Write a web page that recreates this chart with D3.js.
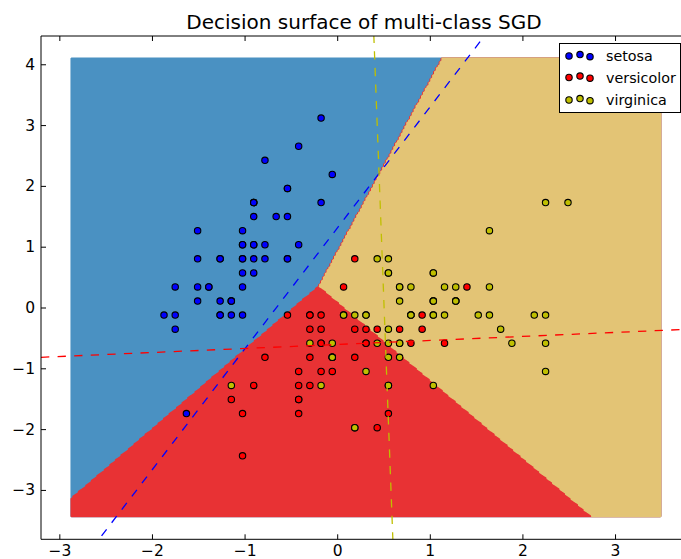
<!DOCTYPE html>
<html><head><meta charset="utf-8">
<script src="https://cdn.jsdelivr.net/npm/d3@7"></script>
<style>body{margin:0;background:#fff}svg{display:block}</style>
</head><body>
<svg id="c" width="681" height="559"></svg>
<script>
// ---------- data (standardized sepal length / sepal width of iris) ----------
const classNames = ["setosa", "versicolor", "virginica"];
const pointColors = ["#0000ff", "#ff0000", "#bfbf00"];
const regionColors = ["#4a91c2", "#e83234", "#e3c475"];

const setosaX = [-0.901,-1.143,-1.386,-1.507,-1.022,-0.537,-1.507,-1.022,-1.749,-1.143,-0.537,-1.264,-1.264,-1.870,-0.053,-0.174,-0.537,-0.901,-0.174,-0.901,-0.537,-0.901,-1.507,-0.901,-1.264,-1.022,-1.022,-0.780,-0.780,-1.386,-1.264,-0.537,-0.780,-0.416,-1.143,-1.022,-0.416,-1.143,-1.749,-0.901,-1.022,-1.628,-1.749,-1.022,-0.901,-1.264,-0.901,-1.507,-0.659,-1.022];
const setosaY = [1.032,-0.125,0.338,0.106,1.263,1.958,0.801,0.801,-0.356,0.106,1.495,0.801,-0.125,-0.125,2.189,3.115,1.958,1.032,1.726,1.726,0.801,1.495,1.263,0.569,0.801,-0.125,0.801,1.032,0.801,0.338,0.106,0.801,2.420,2.652,0.106,0.338,1.032,0.106,-0.125,0.801,1.032,-1.745,0.338,1.032,1.726,-0.125,1.726,0.338,1.495,0.569];

const versicolorX = [1.401,0.674,1.280,-0.416,0.796,-0.174,0.553,-1.143,0.917,-0.780,-1.022,0.069,0.190,0.311,-0.295,1.038,-0.295,-0.053,0.432,-0.295,0.069,0.311,0.553,0.311,0.674,0.917,1.159,1.038,0.190,-0.174,-0.416,-0.416,-0.053,0.190,-0.537,0.190,1.038,0.553,-0.295,-0.416,-0.416,0.311,-0.053,-1.022,-0.295,-0.174,-0.174,0.432,-0.901,-0.174];
const versicolorY = [0.338,0.338,0.106,-1.745,-0.588,-0.588,0.569,-1.513,-0.356,-0.819,-2.439,-0.125,-1.976,-0.356,-0.356,0.106,-0.125,-0.819,-1.976,-1.282,0.338,-0.588,-1.282,-0.588,-0.356,-0.125,-0.588,-0.125,-0.356,-1.051,-1.513,-1.513,-0.819,-0.819,-0.125,0.801,0.106,-1.745,-0.125,-1.282,-1.051,-0.125,-1.051,-1.745,-0.819,-0.125,-0.356,-0.356,-1.282,-0.588];

const virginicaX = [0.553,-0.053,1.523,0.553,0.796,2.128,-1.143,1.765,1.038,1.644,0.796,0.674,1.159,-0.174,-0.053,0.674,0.796,2.250,2.250,0.190,1.280,-0.295,2.250,0.553,1.038,1.644,0.432,0.311,0.674,1.644,1.886,2.492,0.674,0.553,0.311,2.250,0.553,0.674,0.190,1.280,1.038,1.280,-0.053,1.159,1.038,1.038,0.553,0.796,0.432,0.069];
const virginicaY = [0.569,-0.819,-0.125,-0.356,-0.125,-0.125,-1.282,-0.356,-1.282,1.263,0.338,-0.819,-0.125,-1.282,-0.588,0.338,-0.125,1.726,-1.051,-1.976,0.338,-0.588,-0.588,-0.819,0.569,0.338,-0.588,-0.125,-0.588,-0.125,-0.588,1.726,-0.588,-0.588,-1.051,-0.125,0.801,0.106,-0.125,0.106,0.106,0.106,-0.819,0.338,0.569,-0.125,-1.282,-0.125,0.801,-0.125];

// one-vs-all linear decision functions: f_c = coefX*x + coefY*y + intercept
const coefX = [-1.989, 0.0364, 0.770];
const coefY = [1.000, -0.551, 0.0191];
const intercepts = [-1.304, -0.335, -0.390];

const xTicks = [-3, -2, -1, 0, 1, 2, 3];
const yTicks = [-3, -2, -1, 0, 1, 2, 3, 4];
const xDomain = [-3.198, 3.777];
const yDomain = [-3.812, 4.465];
const meshStep = 0.02;
const titleText = "Decision surface of multi-class SGD";

// ---------- layout ----------
const L = 41, R = 687, T = 36, B = 539.3;
const svg = d3.select("#c");
const x = d3.scaleLinear().domain(xDomain).range([L, R]);
const y = d3.scaleLinear().domain(yDomain).range([B, T]);

const classes = [
  {name: classNames[0], xs: setosaX, ys: setosaY},
  {name: classNames[1], xs: versicolorX, ys: versicolorY},
  {name: classNames[2], xs: virginicaX, ys: virginicaY}
];
const allX = [].concat(setosaX, versicolorX, virginicaX);
const allY = [].concat(setosaY, versicolorY, virginicaY);
const xMin = d3.min(allX) - 1, xMax = d3.max(allX) + 1;
const yMin = d3.min(allY) - 1, yMax = d3.max(allY) + 1;

svg.append("defs").append("clipPath").attr("id", "clip")
  .append("rect").attr("x", L).attr("y", T).attr("width", R - L).attr("height", B - T);

const plot = svg.append("g").attr("clip-path", "url(#clip)");

// ---------- decision surface ----------
const nx = Math.ceil((xMax - xMin) / meshStep);
const ny = Math.ceil((yMax - yMin) / meshStep);
const Z = new Array(nx * ny);
for (let j = 0; j < ny; j++) {
  const yv = yMin + j * meshStep;
  for (let i = 0; i < nx; i++) {
    const xv = xMin + i * meshStep;
    let best = 0, bestV = -Infinity;
    for (let c = 0; c < 3; c++) {
      const v = coefX[c] * xv + coefY[c] * yv + intercepts[c];
      if (v > bestV) { bestV = v; best = c; }
    }
    Z[j * nx + i] = best;
  }
}
const contours = d3.contours().size([nx, ny]).smooth(true).thresholds([-0.5, 0.5, 1.5])(Z);
const proj = d3.geoTransform({
  point(px, py) { this.stream.point(x(xMin + (px - 0.5) * meshStep), y(yMin + (py - 0.5) * meshStep)); }
});
const geo = d3.geoPath(proj);
plot.selectAll("path.region").data(contours).join("path")
  .attr("class", "region").attr("d", geo).attr("fill", (d, i) => regionColors[i]);

// ---------- points ----------
classes.forEach((cl, ci) => {
  plot.append("g").selectAll("circle").data(d3.range(cl.xs.length)).join("circle")
    .attr("cx", k => x(cl.xs[k])).attr("cy", k => y(cl.ys[k])).attr("r", 3.2)
    .attr("fill", pointColors[ci]).attr("stroke", "#000").attr("stroke-width", 1.1);
});

// ---------- hyperplanes ----------
classes.forEach((cl, ci) => {
  const line = x0 => (-(x0 * coefX[ci]) - intercepts[ci]) / coefY[ci];
  const x0 = xDomain[0], x1 = xDomain[1];
  plot.append("line")
    .attr("x1", x(x0)).attr("y1", y(line(x0)))
    .attr("x2", x(x1)).attr("y2", y(line(x1)))
    .attr("stroke", pointColors[ci]).attr("stroke-width", 1.3)
    .attr("stroke-dasharray", "8.3,8.3");
});

// ---------- axes ----------
const font = "DejaVu Sans, sans-serif";
const fmt = d3.format("d");
const ax = svg.append("g").attr("transform", `translate(0,${B})`)
  .call(d3.axisBottom(x).tickValues(xTicks).tickFormat(fmt).tickSize(-5).tickPadding(6));
const axTop = svg.append("g").attr("transform", `translate(0,${T})`)
  .call(d3.axisTop(x).tickValues(xTicks).tickSize(-5).tickFormat(""));
const ay = svg.append("g").attr("transform", `translate(${L},0)`)
  .call(d3.axisLeft(y).tickValues(yTicks).tickFormat(fmt).tickSize(-5).tickPadding(6));
[ax, axTop, ay].forEach(g => {
  g.select(".domain").remove();
  g.selectAll("line").attr("stroke", "#000");
  g.selectAll("text").attr("fill", "#000").style("font-family", font).style("font-size", "15.5px");
});
// spines
svg.append("line").attr("x1", L).attr("x2", L).attr("y1", T).attr("y2", B).attr("stroke", "#000");
svg.append("line").attr("x1", L).attr("x2", R).attr("y1", T).attr("y2", T).attr("stroke", "#000");
svg.append("line").attr("x1", L).attr("x2", R).attr("y1", B).attr("y2", B).attr("stroke", "#000");

// ---------- title ----------
svg.append("text").attr("x", (L + R) / 2).attr("y", 28.5).attr("text-anchor", "middle")
  .style("font-family", font).style("font-size", "20px").attr("fill", "#000").text(titleText);

// ---------- legend ----------
const lg = svg.append("g");
lg.append("rect").attr("x", 559.5).attr("y", 43.5).attr("width", 121).attr("height", 69)
  .attr("fill", "#fff").attr("stroke", "#000").attr("stroke-width", 1);
const markerDx = [569, 580, 590];
const markerDy = [0, -1.4, 0.7];
const rowY = [56, 77.5, 100];
classes.forEach((cl, ci) => {
  markerDx.forEach((mx, k) => {
    lg.append("circle").attr("cx", mx).attr("cy", rowY[ci] + markerDy[k]).attr("r", 3.2)
      .attr("fill", pointColors[ci]).attr("stroke", "#000").attr("stroke-width", 1.1);
  });
  lg.append("text").attr("x", 606).attr("y", rowY[ci]).attr("dy", "0.35em")
    .style("font-family", font).style("font-size", "14.3px").attr("fill", "#000").text(cl.name);
});
</script>
</body></html>
